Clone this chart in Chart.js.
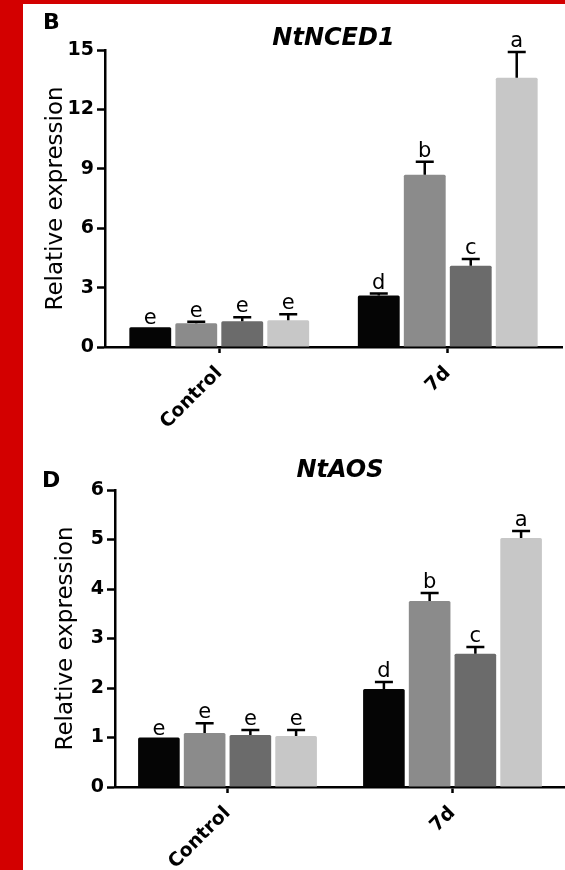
<!DOCTYPE html>
<html>
<head>
<meta charset="utf-8">
<script src="https://cdn.jsdelivr.net/npm/chart.js@4/dist/chart.umd.min.js"></script>
<style>
  html, body { margin: 0; padding: 0; background: #fff; }
  #page { position: relative; width: 565px; height: 870px; overflow: hidden; background: #fff; }
  .panel { position: absolute; left: 0; width: 565px; height: 430px; }
  .frame-left { position: absolute; left: 0; top: 0; width: 23px; height: 870px; background: #d30000; }
  .frame-top { position: absolute; left: 0; top: 0; width: 565px; height: 4px; background: #d30000; }
</style>
</head>
<body>
<div id="page">
  <div class="panel" style="top:0px"><canvas id="chartNCED" width="565" height="430"></canvas></div>
  <div class="panel" style="top:440px"><canvas id="chartAOS" width="565" height="430"></canvas></div>
  <div class="frame-left"></div>
  <div class="frame-top"></div>
</div>
<script>
// Sampling times
const categories = ['Control', '7d'];

// NtNCED1 relative expression, one array per treatment: [Control, 7d]
const ncedT1 = [1.00, 2.60];
const ncedT2 = [1.20, 8.70];
const ncedT3 = [1.30, 4.10];
const ncedT4 = [1.35, 13.60];
// NtNCED1 standard errors
const ncedErrT1 = [0.00, 0.10];
const ncedErrT2 = [0.08, 0.65];
const ncedErrT3 = [0.20, 0.35];
const ncedErrT4 = [0.30, 1.30];
// NtNCED1 significance letters
const ncedLetT1 = ['e', 'd'];
const ncedLetT2 = ['e', 'b'];
const ncedLetT3 = ['e', 'c'];
const ncedLetT4 = ['e', 'a'];

// NtAOS relative expression, one array per treatment: [Control, 7d]
const aosT1 = [1.00, 1.98];
const aosT2 = [1.09, 3.76];
const aosT3 = [1.05, 2.69];
const aosT4 = [1.03, 5.03];
// NtAOS standard errors
const aosErrT1 = [0.00, 0.14];
const aosErrT2 = [0.20, 0.16];
const aosErrT3 = [0.10, 0.14];
const aosErrT4 = [0.12, 0.14];
// NtAOS significance letters
const aosLetT1 = ['e', 'd'];
const aosLetT2 = ['e', 'b'];
const aosLetT3 = ['e', 'c'];
const aosLetT4 = ['e', 'a'];

// Axis ranges
const ncedAxis = { max: 15, step: 3 };
const aosAxis = { max: 6, step: 1 };

const barColors = ['#050505', '#8b8b8b', '#6b6b6b', '#c7c7c7'];
const FONT = 'DejaVu Sans';

// Upper error bars, letters above them, panel letter and gene title
const annotate = {
  id: 'annotate',
  afterDatasetsDraw(chart, args, opts) {
    const ctx = chart.ctx;
    const yScale = chart.scales.y;
    const area = chart.chartArea;
    ctx.save();
    ctx.strokeStyle = '#000';
    ctx.fillStyle = '#000';
    ctx.lineWidth = 2.5;
    chart.data.datasets.forEach((ds, i) => {
      const meta = chart.getDatasetMeta(i);
      meta.data.forEach((bar, j) => {
        const v = ds.data[j];
        const e = ds.sem[j];
        const yBar = yScale.getPixelForValue(v);
        const yTop = yScale.getPixelForValue(v + e);
        if (e > 0) {
          ctx.beginPath();
          ctx.moveTo(bar.x, yBar);
          ctx.lineTo(bar.x, yTop);
          ctx.moveTo(bar.x - 9, yTop);
          ctx.lineTo(bar.x + 9, yTop);
          ctx.stroke();
        }
        ctx.font = '21px "' + FONT + '"';
        ctx.textAlign = 'center';
        ctx.textBaseline = 'alphabetic';
        ctx.fillText(ds.letters[j], bar.x, yTop - (e > 0 ? 5 : 3));
      });
    });
    ctx.textAlign = 'left';
    ctx.font = 'bold 22px "' + FONT + '"';
    ctx.fillText(opts.panel, opts.panelX, opts.panelY);
    ctx.textAlign = 'center';
    ctx.font = 'italic bold 24px "' + FONT + '"';
    ctx.fillText(opts.title, (area.left + area.right) / 2, opts.titleY);
    ctx.restore();
  }
};

function makeChart(id, series, errs, letters, axis, pad, yLabelPad, labels, catPct) {
  const datasets = series.map((vals, i) => ({
    data: vals,
    sem: errs[i],
    letters: letters[i],
    backgroundColor: barColors[i],
    borderWidth: 0,
    borderRadius: 1.5,
    categoryPercentage: catPct,
    barPercentage: 0.91
  }));
  return new Chart(document.getElementById(id), {
    type: 'bar',
    data: { labels: categories, datasets },
    options: {
      responsive: false,
      animation: false,
      events: [],
      layout: { padding: pad },
      plugins: {
        legend: { display: false },
        tooltip: { enabled: false },
        annotate: labels
      },
      scales: {
        x: {
          afterFit(s) { s.height = 83; },
          border: { color: '#000', width: 2.5 },
          grid: { offset: false, drawOnChartArea: false, tickLength: 6, tickWidth: 2.5, tickColor: '#000' },
          ticks: {
            color: '#000',
            font: { family: FONT, size: 19, weight: 'bold' },
            minRotation: 45, maxRotation: 45, padding: 9
          }
        },
        y: {
          min: 0, max: axis.max,
          afterFit(s) { s.width = 75; },
          border: { color: '#000', width: 2.5 },
          grid: { drawOnChartArea: false, tickLength: 8, tickWidth: 2.5, tickColor: '#000' },
          ticks: {
            stepSize: axis.step, color: '#000', padding: 3,
            font: { family: FONT, size: 19, weight: 'bold' }
          },
          title: {
            display: true, text: 'Relative expression', color: '#000',
            font: { family: FONT, size: 23, weight: 'normal' },
            padding: { top: yLabelPad, bottom: 0 }
          }
        }
      }
    },
    plugins: [annotate]
  });
}

makeChart('chartNCED',
  [ncedT1, ncedT2, ncedT3, ncedT4],
  [ncedErrT1, ncedErrT2, ncedErrT3, ncedErrT4],
  [ncedLetT1, ncedLetT2, ncedLetT3, ncedLetT4],
  ncedAxis,
  { left: 30, right: 3, top: 50, bottom: 0 }, 12,
  { panel: 'B', panelX: 43, panelY: 29, title: 'NtNCED1', titleY: 45 },
  0.805);

makeChart('chartAOS',
  [aosT1, aosT2, aosT3, aosT4],
  [aosErrT1, aosErrT2, aosErrT3, aosErrT4],
  [aosLetT1, aosLetT2, aosLetT3, aosLetT4],
  aosAxis,
  { left: 40, right: 0, top: 50, bottom: 0 }, 12,
  { panel: 'D', panelX: 42, panelY: 47, title: 'NtAOS', titleY: 37 },
  0.813);
</script>
</body>
</html>
